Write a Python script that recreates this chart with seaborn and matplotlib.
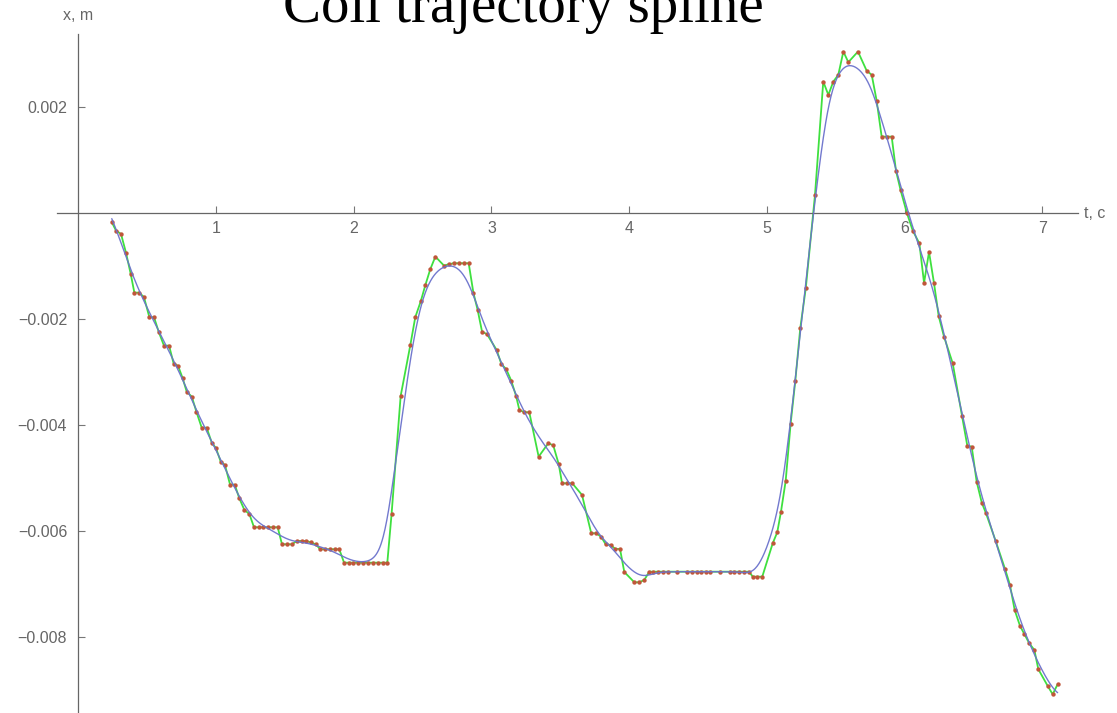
import numpy as np
import pandas as pd
import matplotlib
matplotlib.use("Agg")
import matplotlib.pyplot as plt
import seaborn as sns
from matplotlib.ticker import FixedLocator, FuncFormatter

# ---- data (t in seconds, x in 1e-3 m) ----
t_s = [0.243, 0.274, 0.310, 0.346, 0.381, 0.407, 0.443, 0.477, 0.516, 0.550,
       0.584, 0.622, 0.659, 0.693, 0.724, 0.757, 0.787, 0.824, 0.858, 0.896,
       0.932, 0.969, 1.000, 1.034, 1.065, 1.102, 1.136, 1.169, 1.206, 1.242,
       1.276, 1.310, 1.343, 1.380, 1.414, 1.448, 1.479, 1.518, 1.552, 1.586,
       1.622, 1.656, 1.690, 1.724, 1.757, 1.794, 1.828, 1.862, 1.895, 1.930,
       1.966, 1.997, 2.033, 2.070, 2.106, 2.140, 2.174, 2.211, 2.244, 2.275,
       2.341, 2.411, 2.447, 2.487, 2.520, 2.556, 2.593, 2.656, 2.690, 2.726,
       2.763, 2.799, 2.835, 2.869, 2.900, 2.932, 2.968, 3.038, 3.072, 3.108,
       3.144, 3.179, 3.203, 3.239, 3.275, 3.343, 3.413, 3.449, 3.489, 3.513,
       3.551, 3.587, 3.658, 3.725, 3.760, 3.796, 3.830, 3.866, 3.900, 3.934,
       3.965, 4.038, 4.074, 4.110, 4.147, 4.174, 4.210, 4.246, 4.282, 4.348,
       4.420, 4.457, 4.493, 4.522, 4.558, 4.588, 4.660, 4.733, 4.762, 4.798,
       4.834, 4.871, 4.898, 4.931, 4.967, 5.043, 5.076, 5.103, 5.137, 5.173,
       5.207, 5.243, 5.283, 5.350, 5.410, 5.447, 5.483, 5.519, 5.556, 5.592,
       5.662, 5.725, 5.762, 5.798, 5.834, 5.871, 5.907, 5.938, 5.972, 6.018,
       6.060, 6.108, 6.142, 6.178, 6.214, 6.248, 6.287, 6.350, 6.418, 6.456,
       6.488, 6.524, 6.561, 6.592, 6.662, 6.730, 6.766, 6.800, 6.839, 6.870,
       6.906, 6.943, 6.972, 7.040, 7.076, 7.112]
x_mm = [-0.181, -0.340, -0.402, -0.755, -1.162, -1.509, -1.509, -1.596, -1.974, -1.974,
        -2.251, -2.509, -2.509, -2.855, -2.887, -3.119, -3.377, -3.472, -3.760, -4.057,
        -4.057, -4.340, -4.445, -4.698, -4.760, -5.132, -5.132, -5.389, -5.609, -5.685,
        -5.936, -5.936, -5.936, -5.936, -5.936, -5.936, -6.257, -6.257, -6.257, -6.194,
        -6.194, -6.194, -6.223, -6.257, -6.351, -6.351, -6.351, -6.351, -6.351, -6.604,
        -6.604, -6.604, -6.604, -6.604, -6.604, -6.604, -6.604, -6.604, -6.604, -5.685,
        -3.458, -2.502, -1.974, -1.672, -1.370, -1.068, -0.830, -1.000, -0.974, -0.955,
        -0.955, -0.955, -0.955, -1.509, -1.836, -2.245, -2.294, -2.591, -2.855, -2.955,
        -3.170, -3.458, -3.723, -3.766, -3.766, -4.604, -4.351, -4.389, -4.747, -5.106,
        -5.106, -5.106, -5.326, -6.049, -6.049, -6.113, -6.257, -6.270, -6.345, -6.345,
        -6.779, -6.974, -6.974, -6.930, -6.774, -6.774, -6.774, -6.774, -6.774, -6.774,
        -6.774, -6.774, -6.774, -6.774, -6.774, -6.774, -6.774, -6.774, -6.774, -6.774,
        -6.774, -6.774, -6.868, -6.868, -6.868, -6.238, -6.030, -5.642, -5.062, -3.981,
        -3.175, -2.181, -1.426, 0.334, 2.472, 2.221, 2.472, 2.598, 3.038, 2.838,
        3.038, 2.679, 2.598, 2.108, 1.434, 1.434, 1.434, 0.792, 0.419, -0.011,
        -0.340, -0.581, -1.326, -0.742, -1.326, -1.949, -2.340, -2.842, -3.836, -4.396,
        -4.415, -5.075, -5.472, -5.672, -6.194, -6.723, -7.025, -7.496, -7.798, -7.949,
        -8.125, -8.251, -8.615, -8.930, -9.087, -8.898]

x_major = [1, 2, 3, 4, 5, 6, 7]
y_major = [0.002, -0.002, -0.004, -0.006, -0.008]
title = "Coil trajectory spline"

sns.set_theme(style="white")
plt.rcParams["font.family"] = ["Liberation Sans", "DejaVu Sans"]

df = pd.DataFrame({"t": t_s, "x": np.array(x_mm) * 1e-3})

# smooth fit of the samples (local-linear Gaussian kernel)
tt = np.linspace(df.t.min(), df.t.max(), 1600)
h = 0.085
tv, xv = df.t.values, df.x.values
fit = []
for t0 in tt:
    w = np.exp(-0.5 * ((tv - t0) / h) ** 2)
    d = tv - t0
    s0, s1, s2 = w.sum(), (w * d).sum(), (w * d * d).sum()
    m0, m1 = (w * xv).sum(), (w * d * xv).sum()
    den = s0 * s2 - s1 * s1
    fit.append((s2 * m0 - s1 * m1) / den if den > 1e-14 else m0 / s0)
sm = pd.DataFrame({"t": tt, "x": fit})

W, H = 1117, 713
fig = plt.figure(figsize=(W / 100, H / 100), dpi=100)
ax = fig.add_axes([56.7 / W, 0, (1078 - 56.7) / W, 1 - 34 / H])
ax.set_facecolor("white")

sns.lineplot(data=df, x="t", y="x", sort=False, estimator=None, color="#3fe03f",
             lw=1.3, ax=ax, zorder=2)
sns.scatterplot(data=df, x="t", y="x", color="#c0563a", s=10, linewidth=0,
                ax=ax, zorder=3)
sns.lineplot(data=sm, x="t", y="x", sort=False, estimator=None, color="#6b72cc",
             lw=1.0, alpha=0.95, ax=ax, zorder=4)

ax.set_xlim(-0.157, 7.26)
ax.set_ylim(-9.44e-3, 3.37e-3)
ax.set_xlabel("")
ax.set_ylabel("")
for s in ["top", "right"]:
    ax.spines[s].set_visible(False)
ax.spines["left"].set_position(("data", 0))
ax.spines["bottom"].set_position(("data", 0))
for s in ["left", "bottom"]:
    ax.spines[s].set_color("#666666")
    ax.spines[s].set_linewidth(0.9)

xminor = [round(v * 0.2, 1) for v in range(1, 37) if v % 5 != 0]
yminor = [round(v * 0.0005, 4) for v in range(-18, 7) if v % 4 != 0]
ax.xaxis.set_major_locator(FixedLocator(x_major))
ax.xaxis.set_minor_locator(FixedLocator(xminor))
ax.yaxis.set_major_locator(FixedLocator(y_major))
ax.yaxis.set_minor_locator(FixedLocator(yminor))
ax.xaxis.set_major_formatter(FuncFormatter(lambda v, p: f"{v:g}"))
ax.yaxis.set_major_formatter(FuncFormatter(lambda v, p: f"{v:.3f}".replace("-", "\u2212")))
ax.tick_params(which="both", direction="in", color="#777777", width=0.8,
               labelcolor="#666666", labelsize=11.5)
ax.tick_params(which="major", length=5)
ax.tick_params(which="minor", length=3)
ax.tick_params(axis="x", which="major", pad=6)
ax.tick_params(axis="y", which="major", pad=8)
ax.tick_params(axis="x", bottom=True)
ax.tick_params(axis="y", left=True)

fig.text(78 / W, 1 - 15 / H, "x, m", ha="center", va="center", color="#666666", fontsize=11.5)
fig.text(1084 / W, 1 - 213 / H, "t, c", ha="left", va="center", color="#666666", fontsize=11.5)
fig.text(523 / W, 1 - 22 / H, title, ha="center", va="baseline", fontsize=41,
         family=["Liberation Serif", "DejaVu Serif"], color="black")

fig.savefig("out.png", dpi=100)
